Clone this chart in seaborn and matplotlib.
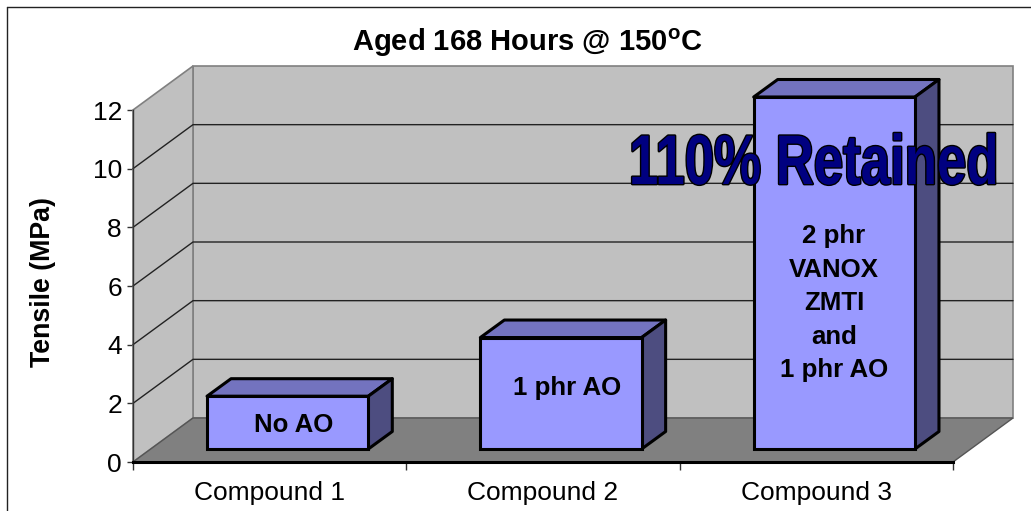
import matplotlib
matplotlib.use("Agg")
import matplotlib.pyplot as plt
import matplotlib.patheffects as pe
from matplotlib.lines import Line2D
from matplotlib.patches import Polygon
from matplotlib.transforms import Affine2D
import seaborn as sns

compounds = ["Compound 1", "Compound 2", "Compound 3"]
tensile = [1.8, 3.8, 12.0]
bar_notes = ["No AO", "1 phr AO", "2 phr\nVANOX\nZMTI\nand\n1 phr AO"]
y_ticks = [0, 2, 4, 6, 8, 10, 12]

W, H = 1031, 511
FRONT = "#9999FF"
TOP = "#7373BF"
SIDE = "#4D4D80"
# where the notes sit on the bars, in pixels
note_pos = [(294, 425), (567, 388), (834, 303)]


class Stretch(pe.AbstractPathEffect):
    # wordart look: pull the glyphs up from the baseline
    def __init__(self, sy, inner):
        super().__init__()
        self.sy = sy
        self.inner = inner

    def draw_path(self, renderer, gc, tpath, affine, rgbFace=None):
        self.inner.draw_path(renderer, gc, tpath, Affine2D().scale(1, self.sy) + affine, rgbFace)


sns.set_theme(style="white")
plt.rcParams["font.family"] = ["Liberation Sans"]
plt.rcParams["mathtext.fontset"] = "custom"
plt.rcParams["mathtext.rm"] = "Liberation Sans:bold"
plt.rcParams["mathtext.bf"] = "Liberation Sans:bold"

fig = plt.figure(figsize=(W / 100, H / 100), dpi=100, facecolor="white")


def px_axes(left, right, top, bottom):
    return fig.add_axes([left / W, 1 - bottom / H, (right - left) / W, (bottom - top) / H])


ax = px_axes(133, 953, 110, 462)
ax.set_xlim(-0.5, 2.5)
ax.set_ylim(0, 12)
ax.patch.set_alpha(0)

# depth of the box, same scale as the axes
dx, dy = 60 / (820 / 3), 44 / (352 / 12)
x0, x1, top = -0.5, 2.5, y_ticks[-1]

ax.add_patch(Polygon([(x0 + dx, dy), (x1 + dx, dy), (x1 + dx, top + dy), (x0 + dx, top + dy)],
                     fc="#C0C0C0", ec="#808080", lw=1.2, clip_on=False, zorder=1))
ax.add_patch(Polygon([(x0, 0), (x0 + dx, dy), (x0 + dx, top + dy), (x0, top)],
                     fc="#C0C0C0", ec="#808080", lw=1.2, clip_on=False, zorder=1))
for v in y_ticks[1:-1]:
    ax.plot([x0, x0 + dx, x1 + dx], [v, v + dy, v + dy], color="#222222", lw=1, clip_on=False, zorder=2)
ax.add_patch(Polygon([(x0, 0), (x0 + dx, dy), (x1 + dx, dy), (x1, 0)],
                     fc="#808080", ec="#555555", lw=1, clip_on=False, zorder=2))

ax.set_yticks(y_ticks)
ax.set_xticks(range(3))
ax.set_xticklabels(compounds)
ax.set_xticks([x0, 0.5, 1.5, x1], minor=True)
ax.tick_params(axis="y", left=True, length=4, width=1, color="#333333", labelsize=19, pad=4, labelcolor="black")
ax.tick_params(axis="x", which="major", bottom=False, length=0, labelsize=19, pad=14, labelcolor="black")
ax.tick_params(axis="x", which="minor", bottom=True, length=6, width=1, color="#333333")
sns.despine(ax=ax, top=True, right=True)
ax.spines["left"].set(color="#333333", lw=1)
ax.spines["bottom"].set(color="black", lw=2.2)
for s in ax.spines.values():
    s.set_zorder(3)

# bars stand a bit inside the box, so they get their own shifted axes
bar_ax = px_axes(151, 971, 110, 449)
sns.barplot(x=compounds, y=tensile, ax=bar_ax, color=FRONT, saturation=1, width=0.59,
            edgecolor="black", linewidth=2.2, zorder=3)
bar_ax.set_xlim(x0, x1)
bar_ax.set_ylim(0, 339 / (352 / 12))
bar_ax.axis("off")

bx, by = 24 / (820 / 3), 17.5 / (352 / 12)
for patch in bar_ax.patches:
    patch.set_clip_on(False)
    l, w, h = patch.get_x(), patch.get_width(), patch.get_height()
    bar_ax.add_patch(Polygon([(l, h), (l + bx, h + by), (l + w + bx, h + by), (l + w, h)],
                             fc=TOP, ec="black", lw=2.2, clip_on=False, zorder=2, joinstyle="round"))
    bar_ax.add_patch(Polygon([(l + w, 0), (l + w + bx, by), (l + w + bx, h + by), (l + w, h)],
                             fc=SIDE, ec="black", lw=2.2, clip_on=False, zorder=2, joinstyle="round"))

for note, (nx, ny) in zip(bar_notes, note_pos):
    fig.text(nx / W, 1 - ny / H, note, ha="center", va="center", fontsize=18.6,
             fontweight="bold", color="black", linespacing=1.5, zorder=5)

fig.text(43 / W, 1 - 282 / H, "Tensile (MPa)", rotation=90, ha="center", va="center",
         fontsize=19.3, fontweight="bold", color="black")
fig.text(527 / W, 1 - 43 / H, r"Aged 168 Hours @ 150$^{\mathrm{o}}$C", ha="center", va="center",
         fontsize=21, fontweight="bold", color="black")

stamp = fig.text(813.5 / W, 1 - 184 / H, "110% Retained", ha="center", va="baseline", fontsize=38,
                 fontweight="bold", color="#000080", zorder=6)
sy = 1.33
stamp.set_path_effects([
    Stretch(sy, pe.Stroke(linewidth=2, foreground="black")),
    Stretch(sy, pe.Normal()),
])

# frame round the picture
fig.add_artist(Line2D([7 / W, 7 / W], [0, 1 - 7 / H], color="#222222", lw=1))
fig.add_artist(Line2D([7 / W, 1], [1 - 7 / H, 1 - 7 / H], color="#222222", lw=1))

fig.savefig("out.png", dpi=100)
